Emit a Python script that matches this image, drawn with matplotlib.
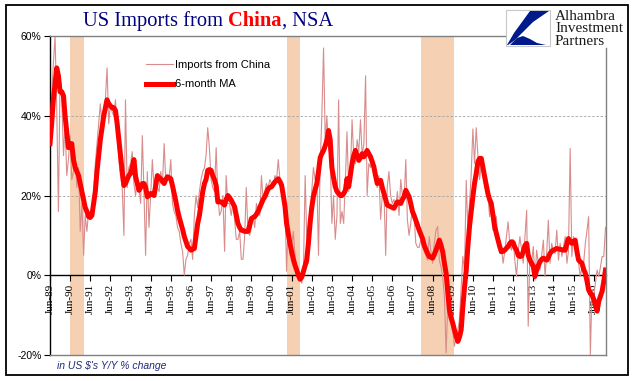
import numpy as np
import pandas as pd
import matplotlib.pyplot as plt
from matplotlib.lines import Line2D
from matplotlib.patches import Rectangle, Polygon

# monthly Y/Y % change, Jun-1989 .. Jan-2017
imports = [
    33, 45, 53, 60, 42, 16, 50, 44, 30, 38, 25, 29,
    35, 24, 26, 30, 22, 27, 11, 18, 5, 15, 11, 16,
    14, 16, 20, 28, 33, 38, 43, 37, 42, 44, 52, 38,
    43, 41, 40, 44, 36, 29, 25, 22, 10, 44, 22, 27,
    28, 31, 23, 20, 25, 22, 18, 35, 20, 5, 26, 12,
    20, 29, 22, 24, 22, 21, 26, 23, 33, 24, 25, 24,
    29, 18, 16, 15, 12, 11, 8, 6, 0, 4, 5, 8,
    9, 4, 15, 20, 17, 21, 24, 26, 27, 30, 37, 32,
    24, 22, 21, 32, 20, 15, 16, 20, 6, 25, 18, 18,
    15, 18, 14, 9, 9, 11, 4, 4, 10, 22, 11, 10,
    12, 15, 12, 18, 16, 15, 25, 19, 21, 23, 22, 24,
    23, 22, 25, 24, 29, 24, 20, 19, 18, 1, 14, 5,
    7, 11, 5, 2, 0, -1, -2, 1, 25, 10, 3, 15,
    21, 27, 24, 25, 5, 28, 40, 57, 33, 40, 32, 30,
    13, 20, 9, 15, 44, 13, 16, 13, 24, 36, 21, 25,
    39, 30, 28, 34, 31, 39, 30, 33, 50, 20, 28, 27,
    30, 26, 24, 22, 25, 14, 20, 21, 5, 22, 26, 20,
    18, 19, 17, 21, 15, 24, 20, 19, 29, 14, 10, 13,
    17, 15, 8, 7, 7, 9, 7, 6, 5, 3.8, 9.7, 6,
    3, 8, 11.3, 12.2, 3.8, 2, -0.3, -5.3, -19.5, -8, -11, -12,
    -13.7, -17.8, -15.3, -14, -11, -3, 4.7, 1.3, 23.8, 12, 18, 25,
    36.7, 28, 37, 30, 24, 28, 26.3, 22.2, 24.7, 20, 14.7, 18.8,
    11.3, 15, 14.7, 8, 5.5, 7.2, 3, 6, 9.7, 13.4, 8, 6.3,
    9, 3.8, -0.3, 6, 9.7, 6.3, 3, 9.7, 16.3, -12.8, 5, 3,
    7.2, -1.2, 6.3, 3, 1.3, 5, 8.8, -0.3, 6, 13.8, 3, 8,
    6, 5.5, 11.3, 3.8, 8, 4.7, 7, 9.7, 3, 6, 31.8, 4.7,
    9.7, 7, 4.7, 3, -0.3, 2, 3, 8, 11.3, 14.7, -20, -3.7,
    -5.3, -2, 1.3, -0.3, 2, 4.7, 4.7, 12,
]

ma6 = [
    33, 38, 44, 48, 52, 50, 46, 46, 45, 40, 36, 32,
    33, 33, 29, 27, 26, 25, 23, 21, 19, 17, 16, 14.7,
    14.5, 15, 18, 21, 26, 30, 34, 37, 40, 42, 44, 43,
    42.5, 42, 42, 41.3, 38, 34, 30, 26, 22.5, 23, 24, 25,
    25.5, 27, 29, 24.7, 23, 21.3, 22, 23, 23, 22, 19.7, 20,
    20.5, 20.3, 20, 22.5, 25, 24.5, 24.2, 23.5, 23, 24, 24.7, 24.5,
    24.2, 22.5, 20.5, 18.5, 16.3, 14.5, 13, 11.5, 9.7, 8.5, 7.2, 6.8,
    6.3, 6.5, 6.7, 10, 13, 15, 18, 21, 23, 24, 26.3, 26.5,
    26.3, 25, 24, 22.5, 18.4, 18.4, 18.4, 18, 17.6, 19, 20, 19.5,
    18.8, 18, 17.2, 15, 13, 12, 11.3, 11.2, 11, 11, 11, 12.5,
    14.2, 14.5, 14.7, 15.3, 16, 17, 18, 19, 19.7, 20.7, 21.7, 22,
    22.2, 22.8, 23.4, 23.8, 24.2, 23.5, 22.6, 20, 17.2, 13, 10.5, 8,
    6, 4, 2.5, 1.3, 0, -1, -0.5, 1, 2.5, 3.8, 8, 13,
    17, 19.7, 21.5, 23, 26, 29.5, 30.5, 31.3, 32.5, 33.8, 36.3, 34,
    27, 24.5, 22.2, 21, 20.5, 20, 20, 20.5, 21.3, 24.2, 22.2, 25,
    28, 30, 31.3, 30, 28.8, 29.5, 30.5, 29.7, 30.5, 31.3, 30.5, 29.7,
    28.5, 27.2, 25, 23, 23.5, 23.8, 22, 20.5, 19, 17.6, 17.4, 17.2,
    17, 16.8, 17.6, 18.4, 18.2, 18, 19, 19.7, 21.3, 20.5, 19.7, 18,
    16, 15, 13.8, 12.5, 11.3, 10.2, 9.2, 7.5, 6.5, 5.5, 4.7, 4.5,
    4.3, 5.2, 6.3, 7.5, 8.8, 7.5, 5.9, 3, 0.5, -4, -8.7, -10.5,
    -12, -13.7, -15.3, -16.6, -15.5, -13.7, -8, -3, 1.3, 7, 12.2, 16,
    19.7, 23, 25.5, 28.5, 29.3, 29.3, 27, 24.7, 22.5, 20.5, 19, 18,
    15, 12.2, 10.5, 8.8, 7.2, 5.9, 6, 6.3, 6.8, 7.2, 8, 8.4,
    8.2, 7, 6.3, 5, 4.7, 4.8, 6, 7.5, 8, 5, 3.8, 3,
    2.2, -0.3, 1.3, 2.5, 3.4, 4, 4.3, 4, 3.8, 4.5, 5.5, 6,
    6.3, 6.5, 6.7, 6.6, 6.5, 6.4, 6.3, 6.3, 8, 9.2, 8.5, 8,
    8.5, 8.8, 6, 3.8, 3.4, 3, 1.5, 0.5, -1.5, -3.7, -4.5, -4.9,
    -6, -7.5, -9, -6.5, -5.3, -4, -1.5, 1.3,
]

dates = pd.date_range("1989-06-01", periods=len(imports), freq="MS")
recessions = [("1990-06-01", "1991-02-01"), ("2001-03-15", "2001-11-01"),
              ("2007-11-01", "2009-07-01")]
tick_years = list(range(1989, 2017))
y_ticks = [-20, 0, 20, 40, 60]

W, H = 641, 381
fig = plt.figure(figsize=(W / 100, H / 100), dpi=100)
ax = fig.add_axes([50 / W, 26 / H, 555.5 / W, 319 / H])

for a, b in recessions:
    ax.axvspan(pd.Timestamp(a), pd.Timestamp(b), color="#F5D0B2", lw=0, zorder=0)

for g in [20, 40]:
    ax.axhline(g, color="#A6A6A6", lw=0.6, ls=(0, (3, 2)), zorder=1)

l1, = ax.plot(dates, imports, color="#D98C8C", lw=0.8, zorder=3, label="Imports from China")
l2, = ax.plot(dates, ma6, color="#FF0000", lw=3.6, zorder=4, solid_joinstyle="round",
              label="6-month MA")

ax.set_xlim(dates[0], dates[-1])
ax.set_ylim(-20, 60)
ax.set_yticks(y_ticks)
ax.set_yticklabels([f"{v}%" for v in y_ticks])
xt = [pd.Timestamp(f"{y}-06-01") for y in tick_years]
ax.set_xticks(xt)
ax.set_xticklabels([f"Jun-{y % 100:02d}" for y in tick_years])

ax.spines["bottom"].set_position(("data", 0))
ax.spines["bottom"].set_linewidth(1.0)
ax.spines["left"].set_linewidth(1.0)
ax.spines["top"].set_visible(False)
ax.spines["right"].set_visible(False)
ax.tick_params(axis="both", direction="out", length=4, width=0.8, pad=2, colors="black")
ax.tick_params(axis="x", labelrotation=90, labelsize=8, labelfontfamily="Liberation Serif")
ax.tick_params(axis="y", labelsize=7.5, labelfontfamily="Liberation Sans")
ax.axhline(-20, color="#808080", lw=1.0, clip_on=False, zorder=5)

# top and right borders (broken by the logo)
fig.add_artist(Line2D([50 / W, 505 / W], [1 - 36 / H, 1 - 36 / H], color="#808080", lw=1.0))
fig.add_artist(Line2D([605.5 / W, 605.5 / W], [1 - 48 / H, 1 - 355 / H], color="#808080", lw=1.0))

# outer frame
fig.add_artist(Rectangle((6 / W, 6 / H), 622 / W, 370 / H, fill=False, ec="black", lw=1.3,
                         transform=fig.transFigure))

leg = ax.legend(handles=[l1, l2], loc="upper left", bbox_to_anchor=(146 / W, 1 - 60 / H),
                bbox_transform=fig.transFigure, frameon=False, handlelength=2.4,
                handletextpad=0.2, labelspacing=0.85, borderpad=0, borderaxespad=0,
                prop={"family": "Liberation Sans", "size": 8})

# title in pieces
fig.canvas.draw()
r = fig.canvas.get_renderer()
ty = 1 - 26 / H
x = 83 / W
tfont = dict(fontsize=14.8, family="Liberation Serif", va="baseline")
t = fig.text(x, ty, "US Imports from", color="#000080", **tfont)
x = t.get_window_extent(r).x1 / fig.bbox.width + 5 / W
t = fig.text(x, ty, "China", color="#FF0000", fontweight="bold", **tfont)
x = t.get_window_extent(r).x1 / fig.bbox.width
fig.text(x, ty, ", NSA", color="#000080", **tfont)

# logo
fig.add_artist(Rectangle((506 / W, 1 - 46 / H), 44 / W, 36 / H, fc="white", ec="#C8C8C8",
                         lw=0.8, transform=fig.transFigure))
logo1 = [(530, 11), (549, 11), (533, 22), (522, 33), (515, 40), (508, 45), (507, 45), (514, 33), (522, 22)]
logo2 = [(510, 45), (517, 38), (523, 36), (530, 39), (537, 43), (546, 45)]
for pts in (logo1, logo2):
    fig.add_artist(Polygon([(px / W, 1 - py / H) for px, py in pts], closed=True,
                           fc="#001A8C", ec="none", transform=fig.transFigure))
for i, word in enumerate(["Alhambra", "Investment", "Partners"]):
    fig.text(555 / W, 1 - (20 + i * 12.5) / H, word, fontsize=11, family="Liberation Serif",
             color="#1A1A1A", va="baseline")

fig.text(57 / W, 1 - 366 / H, "in US $'s Y/Y % change", fontsize=7.5, style="italic",
         family="Liberation Sans", color="#1F2A7A", va="center")

fig.savefig("out.png", dpi=100)
